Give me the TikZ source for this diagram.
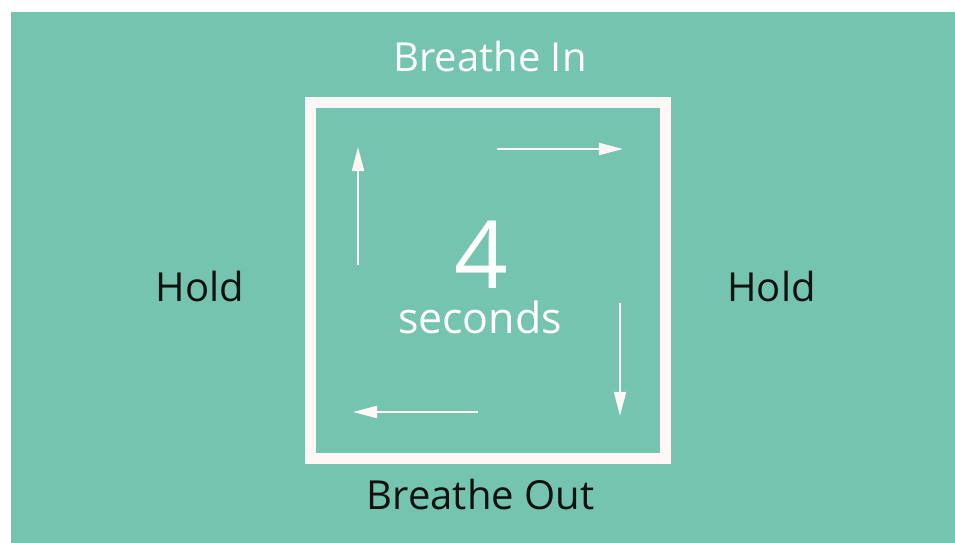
\documentclass[tikz,border=0pt]{standalone}
\usepackage{fontspec}
\setmainfont{Open Sans}
\usetikzlibrary{arrows.meta}
\definecolor{boxteal}{HTML}{74C4AF}
\definecolor{boxwhite}{HTML}{FFF6F6}
\definecolor{labelink}{HTML}{111111}
\tikzset{
  phase/.style={anchor=base,inner sep=0pt,font=\fontsize{28.45}{34}\selectfont},
  flow/.style={-{Triangle[length=0.6cm,width=0.3cm]},line width=1.4pt,draw=boxwhite},
}
\begin{document}
\begin{tikzpicture}[x=0.025cm,y=-0.025cm]
\useasboundingbox (0,0) rectangle (955,543);
\fill[white] (0,0) rectangle (955,543);
\fill[boxteal] (11,12) rectangle (955,543);
% the square
\node[draw=boxwhite,line width=0.275cm,minimum width=8.875cm,minimum height=8.8875cm,inner sep=0pt] (box) at (488,280.25) {};
% labels round the square
\node[phase,text=white] (inhale) at (490,72) {Breathe In};
\node[phase,text=labelink] (holdl) at (200,302) {Hold};
\node[phase,text=labelink] (holdr) at (771.5,302) {Hold};
\node[phase,text=labelink] (exhale) at (480.5,509.5) {Breathe Out};
% count
\node[anchor=base,inner sep=0pt,text=white,font=\fontsize{66.9}{70}\selectfont] (count) at (481,289) {4};
\node[phase,text=white,font=\fontsize{30.5}{34}\selectfont] (unit) at (480,334) {seconds};
% arrows inside
\coordinate (upa) at (358,265);
\coordinate (upb) at (358,147);
\coordinate (rta) at (497,149);
\coordinate (rtb) at (623,149);
\coordinate (dna) at (620,303);
\coordinate (dnb) at (620,416);
\coordinate (lta) at (478,412);
\coordinate (ltb) at (353,412);
\draw[flow] (upa)--(upb);
\draw[flow] (rta)--(rtb);
\draw[flow] (dna)--(dnb);
\draw[flow] (lta)--(ltb);
\end{tikzpicture}
\end{document}
